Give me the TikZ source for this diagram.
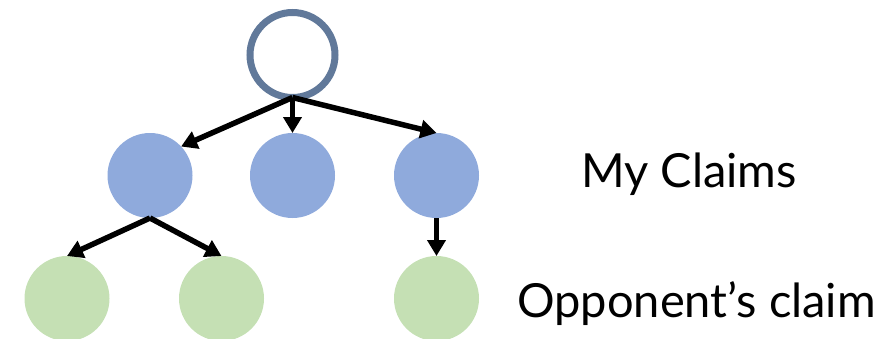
\documentclass[tikz,border=0pt]{standalone}
\usepackage{fontspec}
\setmainfont{Lato}
\usetikzlibrary{arrows.meta}
\definecolor{rootc}{HTML}{61799A}
\definecolor{bluec}{HTML}{8FAADC}
\definecolor{greenc}{HTML}{C5E0B4}
\begin{document}
\begin{tikzpicture}[x=1pt,y=-1pt,
  rootnode/.style={circle,draw=rootc,line width=7pt,fill=white,minimum size=85pt,inner sep=0pt,outer sep=0pt},
  mine/.style={circle,fill=bluec,minimum size=85pt,inner sep=0pt,outer sep=0pt},
  theirs/.style={circle,fill=greenc,minimum size=85pt,inner sep=0pt,outer sep=0pt},
  conn/.style={line width=5.5pt,-{Triangle[length=16pt,width=18pt]}},
  lab/.style={font=\fontsize{47}{52}\selectfont,anchor=base,inner sep=0pt}]
\useasboundingbox (0,0) rectangle (892,338);
\node[rootnode] (r) at (292.5,55) {};
\node[mine] (b1) at (150,175.5) {};
\node[mine] (b2) at (292.5,175.5) {};
\node[mine] (b3) at (436.5,175.5) {};
\node[theirs] (g1) at (67,298.5) {};
\node[theirs] (g2) at (221.5,298.5) {};
\node[theirs] (g3) at (436.5,298.5) {};
\node[lab] (t1) at (689,187) {My Claims};
\node[lab] (t2) at (696.5,317) {Opponent’s claim};
\draw[conn] (r.south) -- (b1.43);
\draw[conn] (r.south) -- (b2.north);
\draw[conn] (r.south) -- (b3.north);
\draw[conn] (b1.south) -- (g1.north);
\draw[conn] (b1.south) -- (g2.north);
\draw[conn] (b3.south) -- (g3.north);
\end{tikzpicture}
\end{document}
